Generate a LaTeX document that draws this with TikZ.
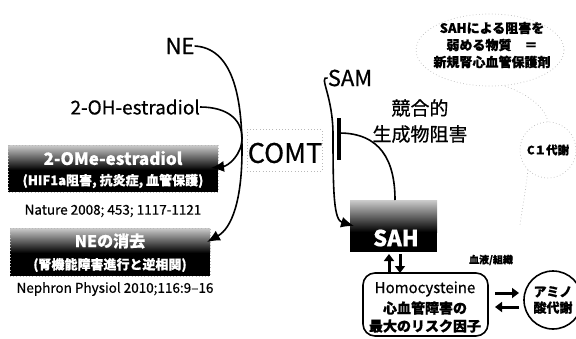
\documentclass[tikz,border=0pt]{standalone}
\usepackage{fontspec}
\setmainfont{Noto Sans CJK JP}[FakeBold=0.6]
\newfontfamily\plainfont{Noto Sans CJK JP}
\usetikzlibrary{arrows.meta}
\begin{document}
\begin{tikzpicture}[x=1pt,y=-1pt,
  lbl/.style={inner sep=0pt,font=\fontsize{#1}{#1}\selectfont},
  lbl/.default=14,
  ml/.style={inner sep=0pt,align=center},
  wtxt/.style={inner sep=0pt,text=white,font=\fontsize{#1}{#1}\selectfont\bfseries},
  conn/.style={line width=1.6pt,-{Latex[length=13pt,width=11pt]}},
  plain/.style={line width=1.6pt},
  fat/.style={line width=3pt,-{Triangle[length=7pt,width=10pt]}},
  faint/.style={gray!55,line width=0.7pt,dash pattern=on 0.7pt off 2.5pt},
  darkbox/.style={fill=black,draw=none}
]
\useasboundingbox (0,0) rectangle (576,338);

% ---- left column ----
\node[lbl=22] (ne) at (180,46) {NE};
\node[lbl=19,anchor=east] (oh) at (200,107) {2-OH-estradiol};
\node[lbl=27] (comt) at (285,153) {COMT};
\draw[faint] (247,129) rectangle (322,171);

% box 1
\shade[top color=gray!40,bottom color=black] (8,145) rectangle (218,170);
\fill[black] (8,170) rectangle (218,192);
\draw[faint] (8,145) rectangle (218,192);
\node[wtxt=17] (ome) at (113,158) {2-OMe-estradiol};
\node[wtxt=13] (ome2) at (113,181) {(HIF1a阻害, 抗炎症, 血管保護)};
\node[lbl=13.5] (nat) at (113,211) {Nature 2008; 453; 1117-1121};

% box 2
\shade[top color=gray!40,bottom color=black] (10,228) rectangle (210,253);
\fill[black] (10,253) rectangle (210,276);
\draw[faint] (10,228) rectangle (210,276);
\node[wtxt=16] (neg) at (110,241) {NEの消去};
\node[wtxt=13] (neg2) at (110,265) {(腎機能障害進行と逆相関)};
\node[lbl=13.5] (neph) at (115,289) {Nephron Physiol 2010;116:9--16};

\coordinate (a1) at (211,168);
\coordinate (a2) at (207,242);
\draw[conn] (ne.east) .. controls (232,48) and (242,95) .. (242,150)
  .. controls (242,200) and (232,228) .. (a2);
\draw[conn] (oh.east) .. controls (228,107) and (242,120) .. (242,138)
  .. controls (242,155) and (228,166) .. (a1);

% ---- SAM / SAH ----
\node[lbl=22] (sam) at (350,78) {SAM};
\shade[top color=gray!40,bottom color=black] (350,200) rectangle (437,232);
\fill[black] (350,232) rectangle (437,252);
\node[wtxt=22] (sah) at (396,238) {SAH};
\coordinate (sahtop) at (395,200);
\coordinate (sahin) at (354,226);
\draw[conn] (sam.west) .. controls (318,76) and (333,95) .. (333,135)
  .. controls (333,195) and (334,220) .. (sahin);
\coordinate (bartop) at (339,118);
\coordinate (barbot) at (339,160);
\coordinate (barmid) at (339,133);
\draw[line width=4.5pt] (bartop) -- (barbot);
\draw[plain] (sahtop) .. controls (395,160) and (380,133) .. (barmid);

\node[ml,font=\fontsize{19}{26}\selectfont] (kyogo) at (420,121) {競合的\\生成物阻害};

% ---- top right ----
\node[ml,font=\fontsize{13}{17}\selectfont\bfseries] (weak) at (492,45) {SAHによる阻害を\\弱める物質　＝\\新規腎心血管保護剤};
\draw[faint] (490,50) ellipse (74 and 36);
\node[circle,minimum size=56pt,draw=gray!55,dash pattern=on 0.7pt off 2.5pt,line width=0.7pt,inner sep=0pt,font=\fontsize{11.5}{11.5}\selectfont\bfseries] (c1) at (548,150) {C１代謝};
\draw[faint] (505,86) .. controls (530,95) and (545,108) .. (c1.north);
\draw[faint] (c1.south west) .. controls (525,195) and (522,210) .. (520,225);

% ---- homocysteine ----
\coordinate (up1) at (389,273);
\coordinate (up2) at (389,254);
\coordinate (dn1) at (400,254);
\coordinate (dn2) at (400,273);
\draw[fat] (up1) -- (up2);
\draw[fat] (dn1) -- (dn2);

\draw[line width=1.6pt,rounded corners=12pt] (363,273) rectangle (488,336);
\node[lbl=15] (homo) at (425,289) {Homocysteine};
\node[inner sep=0pt,font=\fontsize{14}{14}\selectfont\bfseries] (shin) at (425,308) {心血管障害の};
\node[inner sep=0pt,font=\fontsize{14}{14}\selectfont\bfseries] (risk) at (425,326) {最大のリスク因子};
\node[inner sep=0pt,font=\fontsize{10}{10}\selectfont\bfseries] (blood) at (491,260) {血液/組織};

\coordinate (r1) at (495,293);
\coordinate (r2) at (519,293);
\coordinate (l1) at (519,307);
\coordinate (l2) at (495,307);
\draw[fat] (r1) -- (r2);
\draw[fat] (l1) -- (l2);

\node[circle,draw,line width=1.6pt,minimum size=58pt,inner sep=0pt,align=center,
  font=\fontsize{13}{16}\selectfont\bfseries] (amino) at (553,300) {アミノ\\酸代謝};
\end{tikzpicture}
\end{document}
